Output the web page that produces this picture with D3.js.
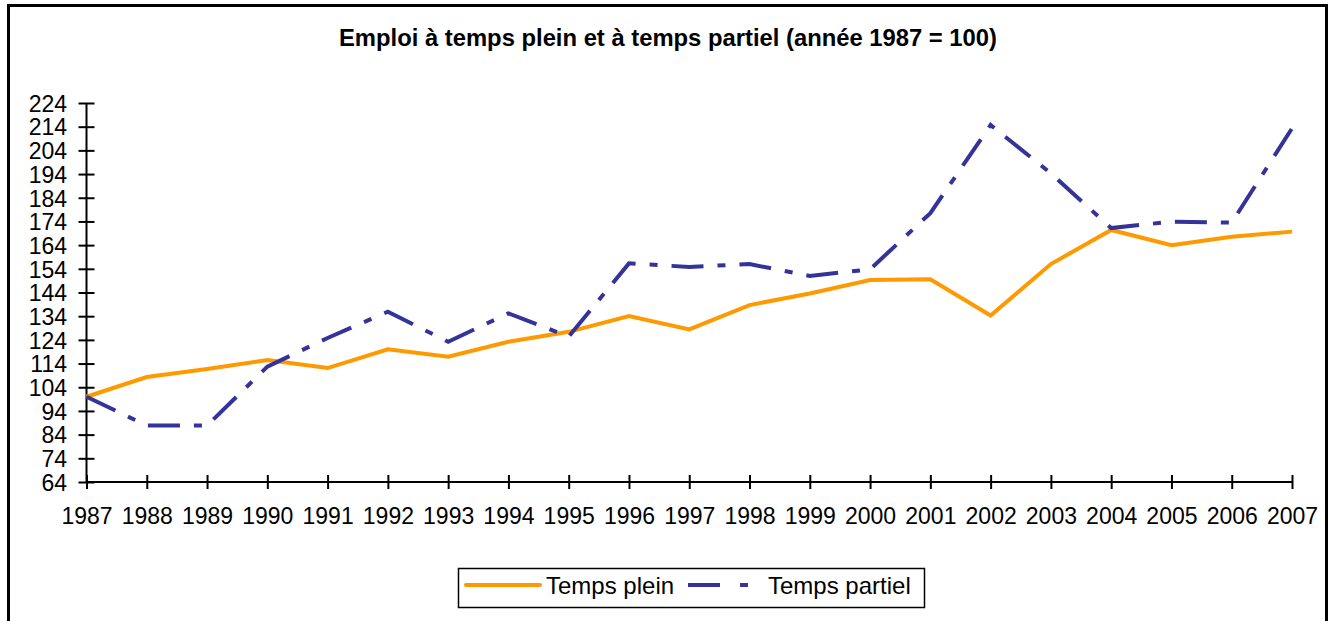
<!DOCTYPE html>
<html><head><meta charset="utf-8">
<script src="https://cdn.jsdelivr.net/npm/d3@7"></script>
<style>body{margin:0;background:#fff}svg{display:block}text{font-family:"Liberation Sans",Arial,sans-serif}</style>
</head><body><svg id="c" width="1330" height="621"></svg>
<script>
const years = [1987,1988,1989,1990,1991,1992,1993,1994,1995,1996,1997,1998,1999,2000,2001,2002,2003,2004,2005,2006,2007];
const tempsPlein = [100,108.3,111.7,115.5,112.1,120,116.9,123.2,127.4,134.1,128.4,138.7,143.6,149.3,149.6,134.3,156,170.4,164,167.5,169.7];
const tempsPartiel = [100,87.8,87.8,112.7,124.8,135.9,123.2,135.2,125.4,156.3,154.8,156,151,153.8,177.5,214.7,194.3,171.2,173.9,173.5,213.3];
const yTicks = [64,74,84,94,104,114,124,134,144,154,164,174,184,194,204,214,224];
const title = "Emploi à temps plein et à temps partiel (année 1987 = 100)";
const seriesNames = ["Temps plein","Temps partiel"];
const colors = ["#FF9900","#333399"];

const svg = d3.select("#c");
// outer frame
svg.append("path").attr("d","M8.5,640 V5.5 H1326.5 V640").attr("fill","none").attr("stroke","#000").attr("stroke-width",3);

svg.append("text").attr("x",668).attr("y",46).attr("text-anchor","middle")
  .attr("font-size",23.8).attr("font-weight","bold").text(title);

const x = d3.scaleLinear().domain([1987,2007]).range([86.5,1292]);
const y = d3.scaleLinear().domain([64,224]).range([482,103]);

const gy = svg.append("g").attr("transform","translate(86.5,0)")
  .call(d3.axisLeft(y).tickValues(yTicks).tickSize(8).tickPadding(11.5).tickFormat(d3.format("d")));
gy.selectAll(".tick line").attr("x1",8);
gy.selectAll("path.domain").attr("d","M0,103V482");
const gx = svg.append("g").attr("transform","translate(0,482)")
  .call(d3.axisBottom(x).tickValues(years).tickSize(7).tickPadding(24).tickFormat(d3.format("d")));
gx.selectAll(".tick line").attr("y1",-7);
gx.selectAll("path.domain").attr("d","M86.5,0H1292");
[gx,gy].forEach(g=>{
  g.selectAll("line,path").attr("stroke","#000").attr("stroke-width",2);
  g.selectAll("text").attr("font-size",23).attr("fill","#000").attr("font-family","'Liberation Sans',Arial,sans-serif");
});
gx.selectAll("text").attr("dy",null).attr("y",41.5);
gy.selectAll("text").attr("dy","0.36em");

const line = d3.line().x((d,i)=>x(years[i])).y(d=>y(d));
svg.append("path").datum(tempsPlein).attr("d",line).attr("fill","none")
  .attr("stroke",colors[0]).attr("stroke-width",4).attr("stroke-linejoin","miter");
svg.append("path").datum(tempsPartiel).attr("d",line).attr("fill","none")
  .attr("stroke",colors[1]).attr("stroke-width",4).attr("stroke-dasharray","32,14,8,14");

// legend
const lg = svg.append("g");
lg.append("rect").attr("x",458.5).attr("y",568.5).attr("width",466).attr("height",39)
  .attr("fill","#fff").attr("stroke","#000").attr("stroke-width",1.5);
lg.append("line").attr("x1",466).attr("x2",540).attr("y1",585).attr("y2",585)
  .attr("stroke",colors[0]).attr("stroke-width",4).attr("stroke-linecap","round");
lg.append("line").attr("x1",688).attr("x2",752).attr("y1",585).attr("y2",585)
  .attr("stroke",colors[1]).attr("stroke-width",4).attr("stroke-dasharray","32,20,8,100");
lg.append("text").attr("x",546).attr("y",594).attr("font-size",24).text(seriesNames[0]);
lg.append("text").attr("x",768).attr("y",594).attr("font-size",24).text(seriesNames[1]);
</script></body></html>
